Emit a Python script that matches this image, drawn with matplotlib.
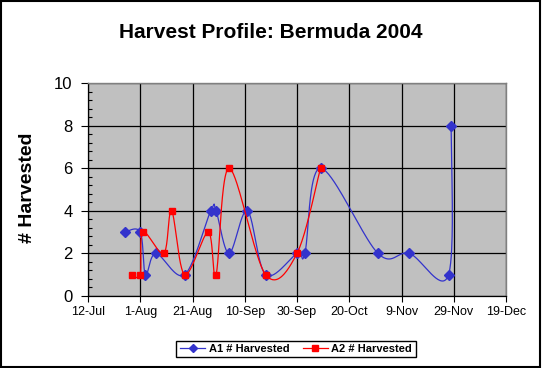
import datetime as dt
import numpy as np
import matplotlib
matplotlib.use("Agg")
import matplotlib.pyplot as plt
import matplotlib.dates as mdates
from matplotlib.ticker import FixedLocator, MultipleLocator, FuncFormatter

# data (year 2004)
a1_dates = ["07-26", "08-01", "08-03", "08-07", "08-18", "08-28", "08-30", "09-04",
            "09-11", "09-18", "09-30", "10-03", "10-09", "10-31", "11-12", "11-27", "11-28"]
a1_values = [3, 3, 1, 2, 1, 4, 4, 2, 4, 1, 2, 2, 6, 2, 2, 1, 8]

a2_dates = ["07-29", "08-01", "08-02", "08-10", "08-13", "08-18", "08-27", "08-30",
            "09-04", "09-18", "09-30", "10-09"]
a2_values = [1, 1, 3, 2, 4, 1, 3, 1, 6, 1, 2, 6]

tick_dates = ["07-12", "08-01", "08-21", "09-10", "09-30", "10-20", "11-09", "11-29", "12-19"]


def to_num(days):
    return np.array([mdates.date2num(dt.datetime.strptime("2004-" + d, "%Y-%m-%d")) for d in days])


def smooth(x, y, n=40):
    # excel style smoothed line (catmull-rom through the points)
    p = np.column_stack([x, y]).astype(float)
    p = np.vstack([p[0], p, p[-1]])
    out = []
    t = np.linspace(0, 1, n)[:, None]
    for i in range(1, len(p) - 2):
        p0, p1, p2, p3 = p[i - 1], p[i], p[i + 1], p[i + 2]
        c1 = p1 + (p2 - p0) / 6
        c2 = p2 - (p3 - p1) / 6
        seg = (1 - t) ** 3 * p1 + 3 * (1 - t) ** 2 * t * c1 + 3 * (1 - t) * t ** 2 * c2 + t ** 3 * p2
        out.append(seg)
    out = np.vstack(out)
    return out[:, 0], out[:, 1]


plt.rcParams['font.family'] = ['Liberation Sans', 'DejaVu Sans']

fig = plt.figure(figsize=(5.42, 3.68), dpi=100)
ax = fig.add_axes([88 / 542, 1 - 296 / 368, (506 - 88) / 542, (296 - 83) / 368])
ax.set_facecolor('#C0C0C0')

blue = '#3333CC'
red = '#FF0000'

x1 = to_num(a1_dates)
x2 = to_num(a2_dates)
sx, sy = smooth(x1, a1_values)
ax.plot(sx, sy, color=blue, lw=0.9, zorder=3)
ax.plot(x1, a1_values, ls='none', marker='D', ms=5, color=blue, zorder=4)
sx, sy = smooth(x2, a2_values)
ax.plot(sx, sy, color=red, lw=0.9, zorder=5)
ax.plot(x2, a2_values, ls='none', marker='s', ms=5, color=red, zorder=6)

ticks = to_num(tick_dates)
ax.set_xlim(ticks[0], ticks[-1])
ax.set_ylim(0, 10)
ax.xaxis.set_major_locator(FixedLocator(ticks))
ax.xaxis.set_major_formatter(FuncFormatter(lambda v, pos: "%d-%s" % (mdates.num2date(v).day, mdates.num2date(v).strftime('%b'))))
ax.yaxis.set_major_locator(MultipleLocator(2))
ax.yaxis.set_minor_locator(MultipleLocator(0.4))
ax.grid(True, which='major', color='black', lw=0.9, zorder=1)
ax.set_axisbelow(True)

ax.tick_params(axis='x', which='major', direction='out', length=4, width=0.8, labelsize=9, pad=3)
ax.tick_params(axis='y', which='major', direction='out', length=5, width=0.8, labelsize=12, pad=6)
ax.tick_params(axis='y', which='minor', direction='in', length=3, width=0.8)

for s in ['top', 'right']:
    ax.spines[s].set_color('#808080')
    ax.spines[s].set_linewidth(1)
for s in ['left', 'bottom']:
    ax.spines[s].set_color('black')
    ax.spines[s].set_linewidth(0.9)

fig.text(271 / 542, 1 - 33 / 368, "Harvest Profile: Bermuda 2004", ha='center', va='center',
         fontsize=15, fontweight='bold')
fig.text(28 / 542, 1 - 188 / 368, "# Harvested", ha='center', va='center', rotation=90,
         fontsize=14, fontweight='bold')

leg = fig.legend([plt.Line2D([], [], color=blue, lw=0.9, marker='D', ms=4),
                  plt.Line2D([], [], color=red, lw=0.9, marker='s', ms=4.5)],
                 ["A1 # Harvested", "A2 # Harvested"],
                 loc='center', bbox_to_anchor=(296 / 542, 1 - 349 / 368), ncol=2,
                 frameon=True, fancybox=False, edgecolor='black', framealpha=1,
                 prop={'size': 8, 'weight': 'bold'}, handlelength=2.3, handletextpad=0.3,
                 columnspacing=1.2, borderpad=0.3, borderaxespad=0)
leg.get_frame().set_linewidth(1)

# black frame round the whole chart
fig.patches.append(plt.Rectangle((0.001, 0.002), 0.996, 0.995, transform=fig.transFigure,
                                 fill=False, edgecolor='black', lw=1.5))

fig.savefig("out.png", dpi=100)
